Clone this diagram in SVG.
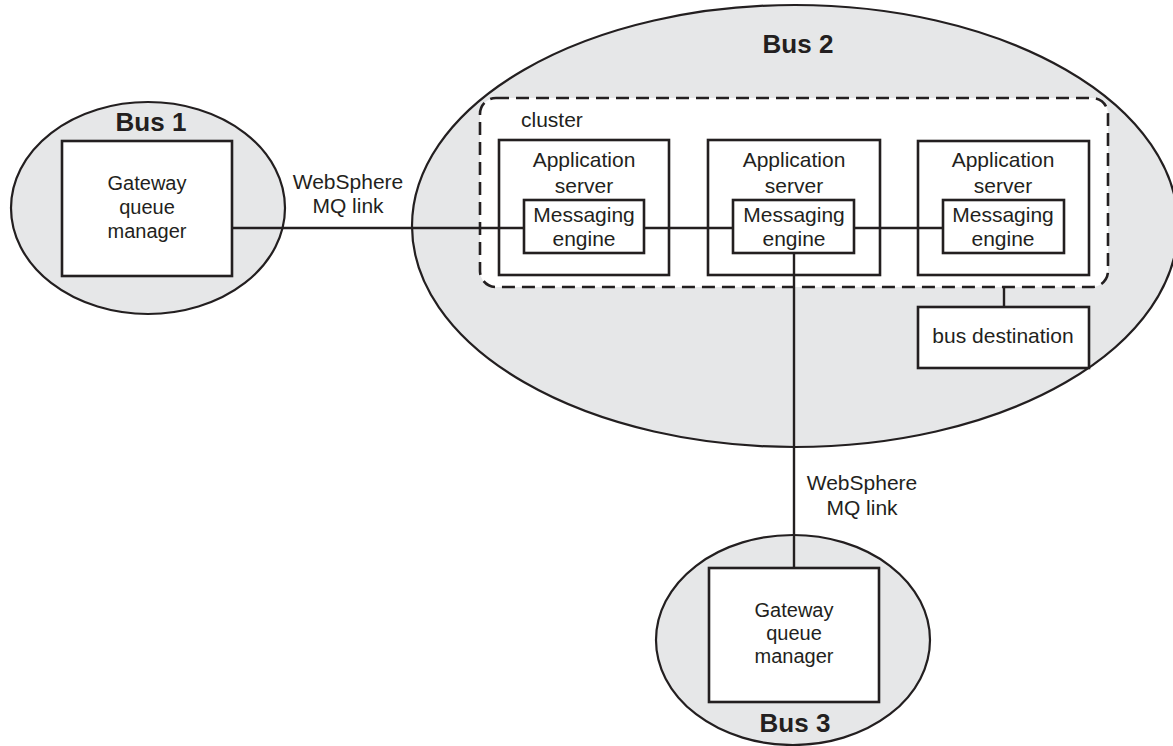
<svg xmlns="http://www.w3.org/2000/svg" width="1173" height="746" viewBox="0 0 1173 746">
<style>
.bus{fill:#e6e7e8;stroke:#231f20;stroke-width:2.2}
.box{fill:#fff;stroke:#231f20;stroke-width:2.6}
.cl{fill:#fff;stroke:#231f20;stroke-width:2.6;stroke-dasharray:13 7}
.ln{fill:none;stroke:#231f20;stroke-width:2.4}
.t{font-family:"Liberation Sans",Arial,sans-serif;font-size:21px;fill:#231f20;text-anchor:middle}
.g{font-size:20px}
.b{font-family:"Liberation Sans",Arial,sans-serif;font-size:26px;font-weight:bold;fill:#231f20;text-anchor:middle}
</style>
<rect width="1173" height="746" fill="#fff"/>
<g id="bus1">
<ellipse class="bus" cx="148" cy="208" rx="137" ry="106"/>
<text class="b" x="151" y="131">Bus 1</text>
</g>
<g id="bus2">
<ellipse class="bus" cx="795" cy="226" rx="383" ry="221"/>
<text class="b" x="798" y="53">Bus 2</text>
</g>
<g id="bus3">
<ellipse class="bus" cx="793" cy="640" rx="137" ry="105"/>
<text class="b" x="795" y="732">Bus 3</text>
</g>
<g id="cluster">
<rect class="cl" x="480" y="98" width="628" height="189" rx="16"/>
<text class="t" x="521" y="127" style="text-anchor:start">cluster</text>
</g>
<g id="gw1">
<rect class="box" x="62" y="141" width="170" height="135"/>
<text class="t g" x="147" y="190">Gateway</text>
<text class="t g" x="147" y="214">queue</text>
<text class="t g" x="147" y="238">manager</text>
</g>
<g id="as1">
<rect class="box" x="499" y="140" width="170" height="135"/>
<text class="t" x="584" y="167">Application</text>
<text class="t" x="584" y="193">server</text>
</g>
<g id="me1">
<rect class="box" x="524" y="200" width="120" height="53"/>
<text class="t" x="584" y="222">Messaging</text>
<text class="t" x="584" y="246">engine</text>
</g>
<g id="as2">
<rect class="box" x="708" y="140" width="172" height="135"/>
<text class="t" x="794" y="167">Application</text>
<text class="t" x="794" y="193">server</text>
</g>
<g id="me2">
<rect class="box" x="733" y="200" width="121" height="53"/>
<text class="t" x="794" y="222">Messaging</text>
<text class="t" x="794" y="246">engine</text>
</g>
<g id="as3">
<rect class="box" x="918" y="141" width="171" height="134"/>
<text class="t" x="1003" y="167">Application</text>
<text class="t" x="1003" y="193">server</text>
</g>
<g id="me3">
<rect class="box" x="943" y="200" width="121" height="53"/>
<text class="t" x="1003" y="222">Messaging</text>
<text class="t" x="1003" y="246">engine</text>
</g>
<g id="busdest">
<rect class="box" x="918" y="307" width="171" height="61"/>
<text class="t" x="1003" y="343">bus destination</text>
</g>
<g id="gw3">
<rect class="box" x="709" y="568" width="170" height="134"/>
<text class="t g" x="794" y="617">Gateway</text>
<text class="t g" x="794" y="640">queue</text>
<text class="t g" x="794" y="663">manager</text>
</g>
<g id="connectors">
<line class="ln" x1="232" y1="228" x2="524" y2="228"/>
<line class="ln" x1="644" y1="228" x2="733" y2="228"/>
<line class="ln" x1="854" y1="228" x2="943" y2="228"/>
<line class="ln" x1="794" y1="253" x2="794" y2="568"/>
<line class="ln" x1="1004" y1="287" x2="1004" y2="307"/>
<text class="t" x="348" y="189">WebSphere</text>
<text class="t" x="348" y="213">MQ link</text>
<text class="t" x="862" y="490">WebSphere</text>
<text class="t" x="862" y="515">MQ link</text>
</g>
</svg>
